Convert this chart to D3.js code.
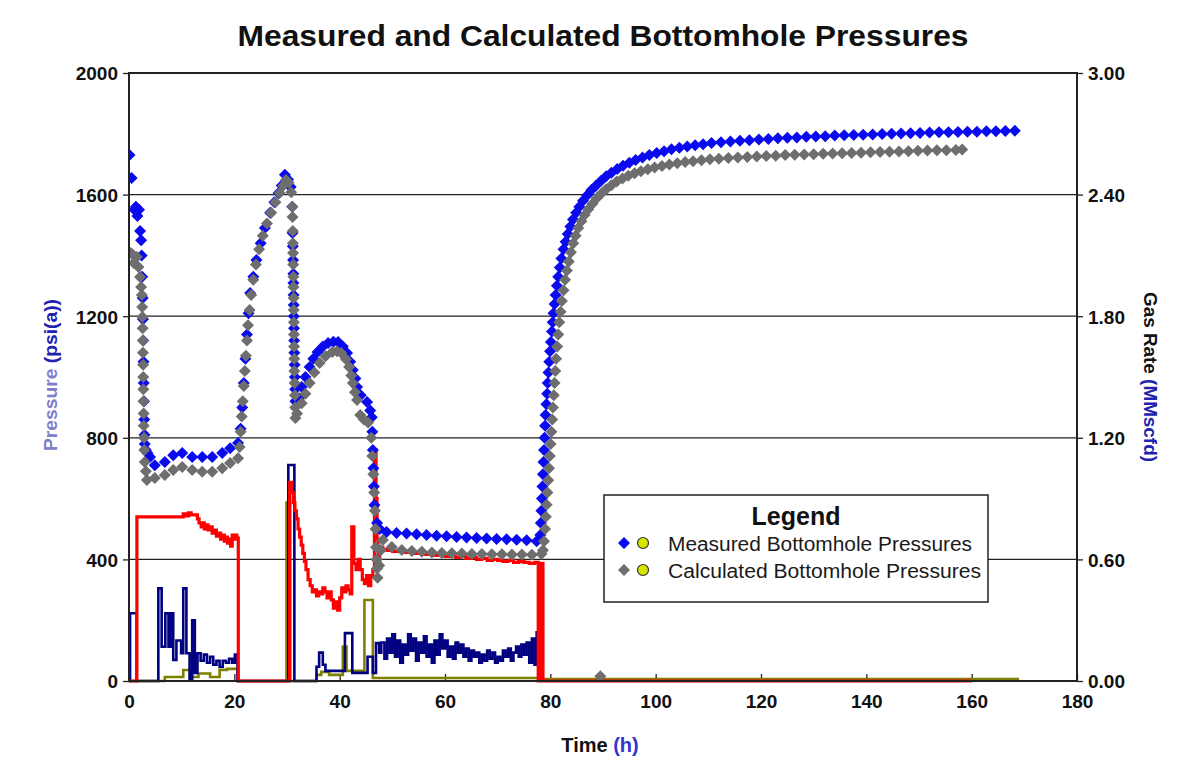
<!DOCTYPE html>
<html><head><meta charset="utf-8">
<script src="https://cdn.jsdelivr.net/npm/d3@7"></script>
<style>
html,body{margin:0;padding:0;background:#fff;}
svg{display:block;}
.tick text{font-family:"Liberation Sans Narrow","Arial Narrow","Liberation Sans",sans-serif;font-weight:bold;font-size:19px;fill:#111;}
</style></head>
<body>
<svg id="chart" width="1182" height="769"></svg>
<script>
// ---------- data ----------
const timeTicks = [0,20,40,60,80,100,120,140,160,180];
const pressureTicks = [0,400,800,1200,1600,2000];
const rateTicks = [0,0.6,1.2,1.8,2.4,3.0];

const measuredTime = [0.1,0.5,1.0,1.3,1.6,1.9,2.1,2.3,2.4,2.5,2.6,2.65,2.7,2.75,2.8,2.85,2.9,2.95,3.0,3.2,3.5,4.0,4.9,
 6.8,8.4,10.1,12.0,13.9,15.8,17.7,19.2,20.7,
 21.2,21.5,21.8,22.1,22.4,22.7,23.0,23.6,24.2,25.0,25.8,26.8,27.6,28.4,29.0,29.6,
 30.2,30.7,31.0,31.05,31.1,31.15,31.2,31.22,31.25,31.28,31.3,31.33,31.36,31.4,31.45,31.5,31.55,31.6,
 32.3,32.8,33.5,34.3,35.0,35.8,36.8,37.8,38.8,39.7,40.6,41.4,42.0,42.5,43.0,43.3,44.0,45.2,45.8,46.1,
 46.2,46.3,46.4,46.5,46.6,47.1,47.6,
 48.9,50.8,52.7,54.6,56.5,58.4,60.3,62.2,64.1,66.0,67.9,69.8,71.7,73.6,75.5,77.4,
 78.1,78.2,78.3,78.4,78.5,78.6,78.7,78.8,78.9,79.0,79.1,79.25,79.4,79.5,79.65,79.8,79.95,80.1,80.3,80.45,80.6,80.8,81.0,81.25,81.5,81.8,82.1,82.5,82.9,83.3,83.8,84.3,84.9,85.5,86.2,87.0,87.8,88.7,89.6,90.6,91.6,92.7,93.8,95.0,96.2,97.5,98.8,100.2,101.6,103.0,104.5,106.0,107.5,109.0,110.6,
 112.4,114.2,116.0,117.8,119.6,121.4,123.2,125.0,126.8,128.6,130.4,132.2,134.0,135.8,137.6,139.4,141.2,143.0,144.8,146.6,148.4,150.2,152.0,153.8,155.6,157.4,159.2,161.0,162.8,164.6,166.4,168.2];
const measuredPressure = [1730,1655,1550,1560,1530,1550,1480,1450,1400,1330,1260,1190,1120,1050,980,920,860,810,780,760,750,737,710,
 720,743,750,737,737,737,750,766,783,
 830,900,980,1060,1140,1210,1276,1330,1385,1440,1490,1540,1575,1605,1630,1665,
 1650,1625,1560,1474,1430,1385,1340,1309,1270,1237,1200,1160,1120,1080,1040,1000,960,920,
 930,967,1000,1033,1060,1082,1100,1112,1116,1115,1100,1079,1050,1023,995,967,940,918,890,868,
 820,760,700,640,579,520,500,
 490,487,485,483,480,478,476,474,472,470,469,467,466,465,463,460,
 480,520,560,600,640,680,720,760,800,840,875,910,945,980,1015,1050,1085,1115,1150,1180,1210,1240,1270,1300,1330,1360,1390,1420,1445,1470,1495,1518,1540,1560,1580,1598,1615,1630,1645,1660,1672,1684,1695,1705,1714,1722,1730,1737,1743,1749,1754,1758,1762,1766,1770,
 1772,1775,1777,1779,1781,1783,1785,1787,1788,1790,1791,1792,1794,1795,1796,1797,1798,1799,1800,1801,1802,1803,1804,1805,1805,1806,1807,1807,1808,1808,1809,1810];

const calculatedTime = [0.1,0.6,0.9,1.5,1.8,2.1,2.3,2.45,2.5,2.55,2.6,2.62,2.65,2.68,2.7,2.72,2.75,2.78,2.8,2.85,2.9,3.0,3.2,3.4,4.9,
 6.8,8.4,10.1,12.0,13.9,15.8,17.7,19.2,20.7,
 21.0,21.2,21.4,21.6,21.8,22.0,22.2,22.4,22.6,22.9,23.2,23.6,24.1,24.7,25.4,26.2,27.0,27.8,28.6,29.3,29.8,
 30.3,30.8,31.0,31.05,31.1,31.12,31.15,31.18,31.2,31.22,31.25,31.28,31.3,31.32,31.35,31.38,31.4,31.45,31.5,31.55,31.6,
 31.9,32.8,33.5,34.3,35.2,36.2,37.3,38.6,39.5,40.3,41.2,41.8,42.2,42.5,42.9,43.3,43.9,44.6,45.4,
 46.0,46.2,46.4,46.55,46.7,46.8,46.9,47.0,47.1,47.2,47.5,47.8,48.2,
 49.9,51.8,53.7,55.6,57.5,59.4,61.3,63.2,65.1,67.0,68.9,70.8,72.7,74.6,76.5,78.3,
 78.6,78.8,79.0,79.15,79.3,79.45,79.6,79.75,79.9,80.05,80.2,80.35,80.5,80.65,80.8,80.95,81.1,81.3,81.5,81.7,81.95,82.2,82.5,82.8,83.15,83.5,83.9,84.35,84.8,85.3,85.9,86.5,87.2,88.0,88.8,89.7,90.6,91.6,92.6,93.7,94.8,96.0,97.2,98.5,99.8,101.2,102.6,104.1,105.6,107.1,108.7,110.3,
 112.0,113.8,115.6,117.4,119.2,121.0,122.8,124.6,126.4,128.2,130.0,131.8,133.6,135.4,137.2,139.0,140.8,142.6,144.4,146.2,148.0,149.8,151.6,153.4,155.2,157.0,158.2];
const calculatedPressure = [1410,1405,1375,1395,1362,1329,1296,1270,1230,1197,1160,1120,1080,1040,1000,960,920,880,840,800,760,720,690,661,668,
 678,694,704,694,688,688,700,717,733,
 770,820,870,920,970,1020,1070,1120,1170,1220,1270,1320,1370,1420,1465,1505,1540,1575,1605,1630,1648,
 1640,1608,1560,1526,1480,1440,1408,1370,1330,1296,1260,1220,1180,1140,1100,1060,1020,980,940,900,865,
 880,914,945,980,1015,1046,1068,1082,1085,1079,1058,1033,1005,980,950,924,875,860,850,
 800,740,680,620,560,500,440,400,370,340,380,430,464,
 441,431,428,425,423,421,420,419,418,418,417,417,416,416,415,418,
 430,460,500,540,580,620,660,700,740,780,820,860,900,940,980,1020,1060,1100,1140,1180,1215,1250,1285,1320,1350,1380,1410,1440,1465,1490,1512,1533,1552,1570,1588,1604,1618,1631,1643,1653,1662,1670,1677,1683,1689,1694,1699,1703,1707,1710,1713,1716,
 1718,1720,1722,1724,1725,1727,1728,1730,1731,1732,1733,1734,1735,1736,1737,1738,1739,1740,1741,1742,1743,1744,1745,1746,1746,1747,1748];
const calculatedExtraTime = [89.5];
const calculatedExtraPressure = [16];

// gas rate (MMscfd) - red, step changes
const gasRateTime = [0,1.5,10.3,10.8,11.3,11.8,12.5,13.0,13.3,13.7,14.0,14.3,14.7,15.0,15.4,15.8,16.2,16.6,17.0,17.4,17.8,18.1,18.4,18.7,19.0,19.3,19.6,19.9,20.2,20.5,20.75,
 30.5,30.9,31.2,31.5,31.8,32.1,32.4,32.7,33.0,33.3,33.6,34.0,34.4,34.8,35.2,35.6,36.0,36.4,36.8,37.2,37.6,38.0,38.4,38.8,39.2,39.6,40.0,40.4,40.8,41.2,41.6,42.0,42.3,42.7,43.1,43.5,43.9,44.3,44.7,45.1,45.5,45.9,46.3,46.6,46.9,47.1,47.3,47.6,
 48.2,49.0,50.0,51.0,52.0,53.0,54.0,55.0,56.0,57.0,58.0,59.0,60.0,61.0,62.0,63.0,64.0,65.0,66.0,67.0,68.0,69.0,70.0,71.0,72.0,73.0,74.0,75.0,76.0,77.0,77.7,78.0,78.6,160];
const gasRate = [0,0.81,0.825,0.815,0.83,0.82,0.82,0.80,0.78,0.76,0.78,0.75,0.77,0.745,0.76,0.73,0.745,0.715,0.73,0.70,0.72,0.69,0.71,0.68,0.70,0.665,0.72,0.70,0.72,0.705,0,
 0.98,0.93,0.88,0.84,0.80,0.75,0.71,0.67,0.63,0.59,0.55,0.50,0.47,0.44,0.45,0.42,0.44,0.43,0.46,0.44,0.41,0.44,0.40,0.36,0.39,0.35,0.41,0.46,0.44,0.47,0.45,0.43,0.76,0.58,0.55,0.60,0.55,0.50,0.48,0.52,0.47,0.52,0.55,1.14,0.90,0.70,0.58,0.66,
 0.65,0.645,0.64,0.645,0.635,0.64,0.63,0.635,0.625,0.63,0.62,0.625,0.615,0.62,0.61,0.615,0.605,0.61,0.60,0.605,0.595,0.60,0.595,0.59,0.595,0.585,0.59,0.585,0.58,0.585,0,0.58,0,0];

// second rate trace (navy)
const rate2Time = [0,0.2,1.45,5.57,6.2,6.9,7.5,7.9,8.4,9.0,9.9,10.3,10.9,11.5,12.0,12.5,13.0,13.6,14.2,14.8,15.4,16.0,16.6,17.2,17.8,18.4,19.0,19.6,20.1,20.6,
 30.25,31.4,35.6,36.1,36.8,37.3,38.0,41.0,42.4,45.3,46.3,46.9,47.5,47.9,
 48.5,49.0,49.5,50.0,50.5,51.0,51.5,52.0,52.5,53.0,53.5,54.0,54.5,55.0,55.5,56.0,56.5,57.0,57.5,58.0,58.5,59.0,59.5,60.0,60.5,61.0,61.5,62.0,62.5,63.0,63.5,64.0,64.5,65.0,65.5,66.0,66.5,67.0,67.5,68.0,68.5,69.0,69.5,70.0,70.5,71.0,71.5,72.0,72.5,73.0,73.5,74.0,74.5,75.0,75.5,76.0,76.5,77.0,77.4,77.8];
const rate2 = [0,0.334,0,0.457,0.169,0.334,0.169,0.334,0.104,0.2,0.137,0.457,0.137,0.01,0.30,0.04,0.137,0.10,0.13,0.09,0.12,0.08,0.10,0.07,0.10,0.09,0.11,0.09,0.13,0,
 1.066,0,0.07,0.14,0.08,0.05,0.05,0.236,0.04,0.12,0.04,0.187,0.14,0.19,
 0.11,0.21,0.14,0.23,0.12,0.20,0.09,0.18,0.13,0.23,0.15,0.21,0.10,0.19,0.14,0.22,0.12,0.18,0.09,0.20,0.13,0.23,0.16,0.20,0.12,0.17,0.11,0.19,0.14,0.18,0.12,0.16,0.10,0.15,0.12,0.14,0.09,0.13,0.10,0.15,0.11,0.14,0.09,0.12,0.10,0.15,0.12,0.16,0.10,0.14,0.17,0.12,0.18,0.13,0.19,0.09,0.21,0.08,0.24,0];

// third rate trace (olive)
const rate3Time = [0,6.8,10.3,11.6,13.2,15.4,17.2,18.6,20.7,29.9,30.6,35.6,36.5,38.0,40.6,41.3,44.7,46.3,78.6,169];
const rate3 = [0,0.02,0.054,0.02,0.037,0.02,0.055,0.06,0,0.88,0,0.03,0.045,0.03,0.17,0.05,0.40,0.015,0.01,0.01];

// ---------- drawing ----------
const svg = d3.select("#chart");
const L = 129, R = 1077, T = 73, B = 681;
const x = d3.scaleLinear().domain([0,180]).range([L,R]);
const yP = d3.scaleLinear().domain([0,2000]).range([B,T]);
const yR = d3.scaleLinear().domain([0,3]).range([B,T]);

// title
svg.append("text").attr("x",603).attr("y",46).attr("text-anchor","middle")
  .attr("font-family","Liberation Sans, Arial, sans-serif").attr("font-weight","bold")
  .attr("font-size",29).attr("fill","#111")
  .attr("textLength",731).attr("lengthAdjust","spacingAndGlyphs")
  .text("Measured and Calculated Bottomhole Pressures");

// gridlines
svg.append("g").selectAll("line").data(pressureTicks.slice(1,-1)).join("line")
  .attr("x1",L).attr("x2",R).attr("y1",d=>yP(d)).attr("y2",d=>yP(d))
  .attr("stroke","#222").attr("stroke-width",1.2);

// axes
const gl = svg.append("g").attr("transform",`translate(${L},0)`)
  .call(d3.axisLeft(yP).tickValues(pressureTicks).tickSize(6).tickPadding(5).tickFormat(d3.format("d")));
const gr = svg.append("g").attr("transform",`translate(${R},0)`)
  .call(d3.axisRight(yR).tickValues(rateTicks).tickSize(6).tickPadding(5).tickFormat(d3.format(".2f")));
const gb = svg.append("g").attr("transform",`translate(0,${B})`)
  .call(d3.axisBottom(x).tickValues(timeTicks).tickSizeInner(-7).tickSizeOuter(0).tickPadding(14));
[gl,gr,gb].forEach(g=>{
  g.select(".domain").remove();
  g.selectAll(".tick line").attr("stroke","#222").attr("stroke-width",1.3);
});
gl.selectAll(".tick text").attr("dy","0.36em");
gr.selectAll(".tick text").attr("dy","0.36em");

// clip
svg.append("clipPath").attr("id","clip").append("rect").attr("x",L).attr("y",T).attr("width",R-L).attr("height",B-T+2);
const plot = svg.append("g").attr("clip-path","url(#clip)");

function stepLine(ts, vs){
  return d3.line().x(d=>x(d[0])).y(d=>yR(d[1])).curve(d3.curveStepAfter)(ts.map((t,i)=>[t,vs[i]]));
}
plot.append("path").attr("d",stepLine(rate3Time,rate3)).attr("fill","none").attr("stroke","#808000").attr("stroke-width",2.6);
plot.append("path").attr("d",stepLine(rate2Time,rate2)).attr("fill","none").attr("stroke","#000080").attr("stroke-width",2.6);
plot.append("path").attr("d",stepLine(gasRateTime,gasRate)).attr("fill","none").attr("stroke","#ff0000").attr("stroke-width",3.2);

// markers: rounded diamond blobs
const markerPath = "M0,-6L6,0L0,6L-6,0Z M4.2,0A4.2,4.2 0 1,1 -4.2,0A4.2,4.2 0 1,1 4.2,0Z";
function markers(ts, vs, color){
  plot.append("g").selectAll("path").data(ts.map((t,i)=>[t,vs[i]])).join("path")
    .attr("d",markerPath).attr("transform",d=>`translate(${x(d[0])},${yP(d[1])})`)
    .attr("fill",color).attr("fill-rule","nonzero");
}
markers(measuredTime, measuredPressure, "#0a0aee");
markers(calculatedTime, calculatedPressure, "#6e6e6e");
markers(calculatedExtraTime, calculatedExtraPressure, "#6e6e6e");

// frame
svg.append("rect").attr("x",L).attr("y",T).attr("width",R-L).attr("height",B-T)
  .attr("fill","none").attr("stroke","#222").attr("stroke-width",2);

// axis titles
const axisFont = "Liberation Sans Narrow, Arial Narrow, Liberation Sans, sans-serif";
const lt = svg.append("text").attr("transform","translate(57,375) rotate(-90)").attr("text-anchor","middle")
  .attr("font-family",axisFont).attr("font-weight","bold").attr("font-size",19)
  .attr("textLength",152).attr("lengthAdjust","spacingAndGlyphs");
lt.append("tspan").attr("fill","#8080c8").text("Pressure ");
lt.append("tspan").attr("fill","#2222b0").text("(psi(a))");

const rt = svg.append("text").attr("transform","translate(1144,377) rotate(90)").attr("text-anchor","middle")
  .attr("font-family",axisFont).attr("font-weight","bold").attr("font-size",19)
  .attr("textLength",170).attr("lengthAdjust","spacingAndGlyphs");
rt.append("tspan").attr("fill","#111").text("Gas Rate ");
rt.append("tspan").attr("fill","#2222b0").text("(MMscfd)");

const bt = svg.append("text").attr("x",600).attr("y",752).attr("text-anchor","middle")
  .attr("font-family",axisFont).attr("font-weight","bold").attr("font-size",20);
bt.append("tspan").attr("fill","#111").text("Time ");
bt.append("tspan").attr("fill","#3333cc").text("(h)");

// legend
const lg = svg.append("g");
lg.append("rect").attr("x",604).attr("y",495).attr("width",384).attr("height",107)
  .attr("fill","#fff").attr("stroke","#222").attr("stroke-width",1.5);
lg.append("text").attr("x",796).attr("y",525).attr("text-anchor","middle")
  .attr("font-family","Liberation Sans, Arial, sans-serif").attr("font-weight","bold").attr("font-size",25).attr("fill","#111")
  .text("Legend");
const legendItems = [["Measured Bottomhole Pressures","#0a0aee",543,304],["Calculated Bottomhole Pressures","#6e6e6e",570,313]];
legendItems.forEach(([label,color,cy,w])=>{
  lg.append("path").attr("d","M0,-6L6,0L0,6L-6,0Z M3.8,0A3.8,3.8 0 1,1 -3.8,0A3.8,3.8 0 1,1 3.8,0Z").attr("transform",`translate(624,${cy})`).attr("fill",color);
  lg.append("circle").attr("cx",643).attr("cy",cy).attr("r",5.5).attr("fill","#d4e400").attr("stroke","#333").attr("stroke-width",1.2);
  lg.append("text").attr("x",668).attr("y",cy+8).attr("font-family","Liberation Sans, Arial, sans-serif")
    .attr("font-size",20).attr("fill","#1a1a1a").attr("textLength",w).attr("lengthAdjust","spacingAndGlyphs").text(label);
});
</script>
</body></html>
